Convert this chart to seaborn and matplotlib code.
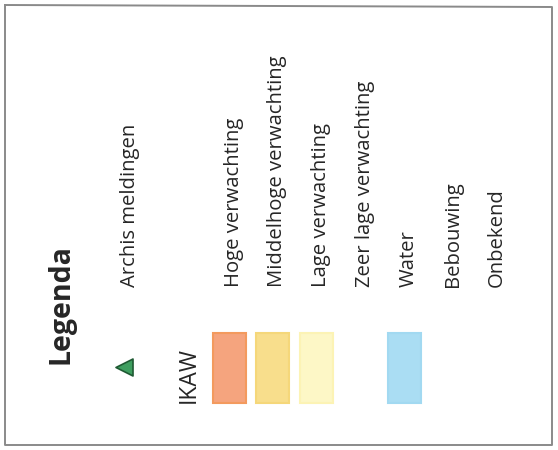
import matplotlib
matplotlib.use("Agg")
import matplotlib.pyplot as plt
import pandas as pd
import seaborn as sns

# legend content
title = "Legenda"
point_label = "Archis meldingen"
group_label = "IKAW"
classes = ["Hoge verwachting", "Middelhoge verwachting", "Lage verwachting",
           "Zeer lage verwachting", "Water", "Bebouwing", "Onbekend"]
class_colors = ["#F5A47E", "#F8DE8C", "#FDF7C6", None, "#AADDF3", None, None]
class_edges = ["#F39A5E", "#F5D77A", "#FCF3B5", None, "#A2D9F1", None, None]

sns.set_theme(style="white")
plt.rcParams["font.family"] = ["Open Sans", "DejaVu Sans"]

fig = plt.figure(figsize=(5.58, 4.5), dpi=100)
ax = fig.add_axes([0, 0, 1, 1])
ax.set_xlim(0, 558)
ax.set_ylim(450, 0)
ax.axis("off")

txt = "#262626"

# frame
ax.plot([5, 552, 552, 5, 5], [5, 7, 445, 445, 5], color="#8a8a8a", lw=1.4)

ax.text(68, 364, title, rotation=90, rotation_mode="anchor", ha="left",
        va="baseline", fontsize=20.5, fontweight="bold", color=txt)

pts = pd.DataFrame({"x": [124], "y": [367]})
sns.scatterplot(data=pts, x="x", y="y", marker="<", s=150, color="#3E9E5F",
                edgecolor="#1F5A33", linewidth=1.2, ax=ax, legend=False)
ax.text(134.5, 287, point_label, rotation=90, rotation_mode="anchor",
        ha="left", va="baseline", fontsize=14.6, color=txt)

ax.text(195, 403, group_label, rotation=90, rotation_mode="anchor",
        ha="left", va="baseline", fontsize=16.5, color=txt)

x0, step = 229, 43.9
for i, (lab, col, ec) in enumerate(zip(classes, class_colors, class_edges)):
    xc = x0 + i * step
    if col is not None:
        ax.bar(xc, 70, width=33, bottom=333, color=col, edgecolor=ec,
               linewidth=1.5)
    ax.text(xc + 9.5, 287, lab, rotation=90, rotation_mode="anchor",
            ha="left", va="baseline", fontsize=14.6, color=txt)

fig.savefig("out.png", dpi=100)
